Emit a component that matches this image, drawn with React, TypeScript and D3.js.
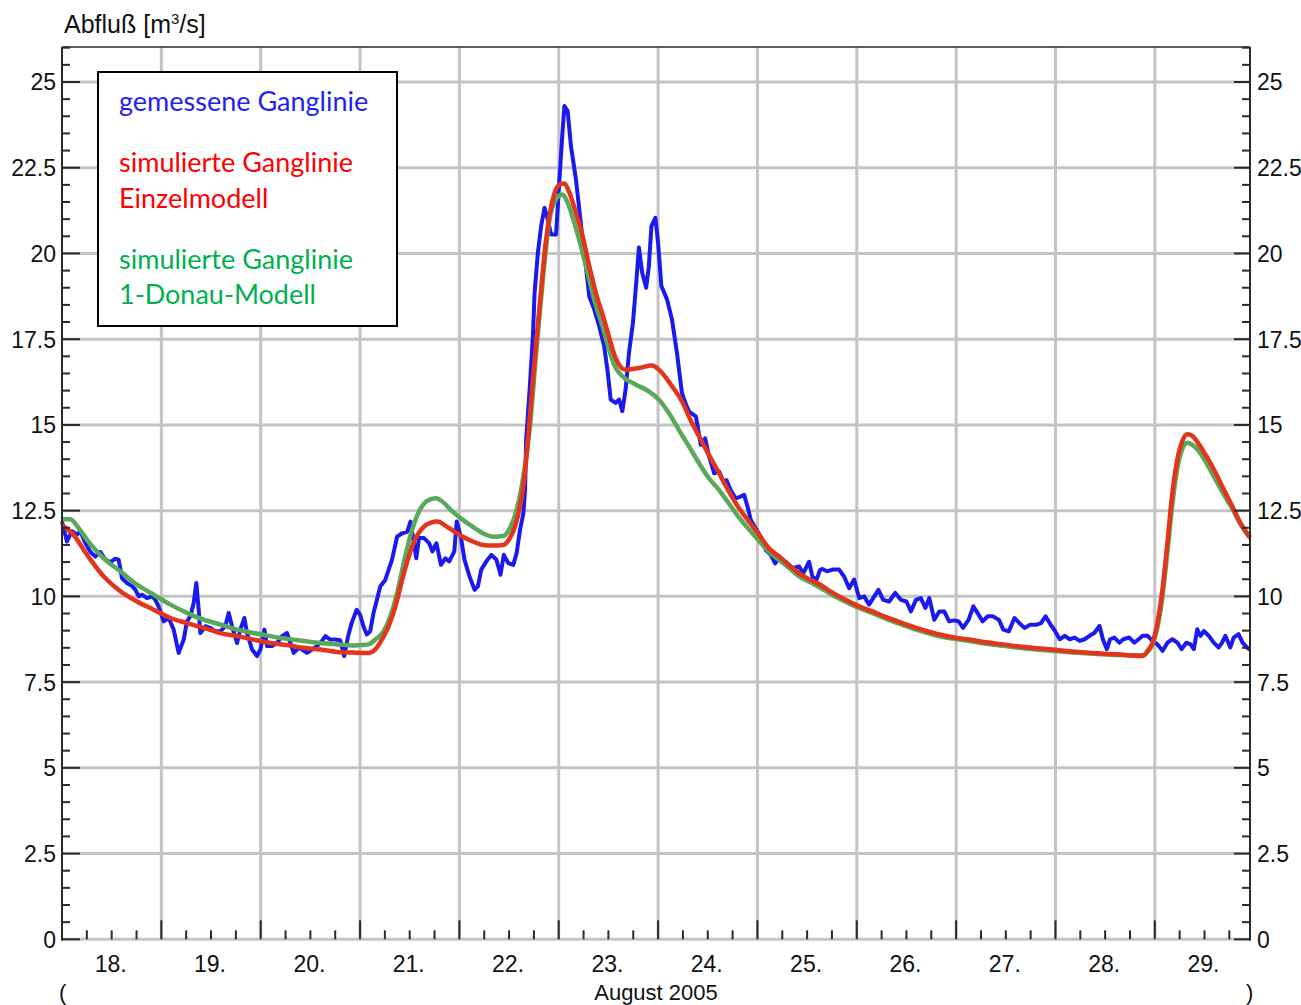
import React, { useRef, useEffect } from 'react'
import * as d3 from 'd3'

// day of August 2005 (fractional), discharge in m3/s
const measured: [number, number][] = [
  [18.0, 12.18], [18.05, 11.6], [18.1, 11.9], [18.15, 11.8], [18.185, 11.9], [18.235, 11.55],
  [18.285, 11.3], [18.335, 11.16], [18.385, 11.3], [18.435, 11.07], [18.487, 11.0], [18.537, 11.1],
  [18.57, 11.07], [18.604, 10.53], [18.654, 10.39], [18.705, 10.3], [18.738, 10.2], [18.772, 10.0],
  [18.805, 10.05], [18.856, 9.95], [18.906, 10.0], [18.94, 9.9], [18.973, 9.7], [19.023, 9.27],
  [19.074, 9.37], [19.124, 9.03], [19.174, 8.35], [19.225, 8.74], [19.258, 9.27], [19.292, 9.42],
  [19.325, 9.8], [19.352, 10.39], [19.376, 9.6], [19.393, 8.93], [19.443, 9.13], [19.493, 9.08],
  [19.544, 8.98], [19.594, 8.98], [19.644, 9.13], [19.678, 9.52], [19.711, 9.13], [19.762, 8.64],
  [19.795, 9.03], [19.836, 9.37], [19.862, 8.93], [19.913, 8.45], [19.963, 8.26], [19.997, 8.45],
  [20.037, 9.03], [20.064, 8.55], [20.114, 8.55], [20.164, 8.64], [20.215, 8.84], [20.265, 8.93],
  [20.299, 8.64], [20.332, 8.35], [20.383, 8.5], [20.416, 8.45], [20.466, 8.35], [20.517, 8.45],
  [20.567, 8.55], [20.617, 8.7], [20.651, 8.84], [20.701, 8.74], [20.752, 8.74], [20.8, 8.72],
  [20.84, 8.26], [20.88, 8.84], [20.915, 9.22], [20.966, 9.61], [21.0, 9.47], [21.034, 9.13],
  [21.068, 8.89], [21.102, 8.98], [21.136, 9.52], [21.17, 9.9], [21.203, 10.29], [21.254, 10.48],
  [21.288, 10.78], [21.322, 11.07], [21.373, 11.74], [21.424, 11.84], [21.475, 11.89], [21.508, 12.18],
  [21.532, 11.74], [21.566, 11.11], [21.593, 11.7], [21.644, 11.7], [21.695, 11.55], [21.729, 11.31],
  [21.769, 11.55], [21.814, 10.92], [21.858, 11.11], [21.898, 11.02], [21.949, 11.31], [21.973, 12.18],
  [22.017, 11.7], [22.051, 11.07], [22.102, 10.58], [22.153, 10.19], [22.186, 10.29], [22.22, 10.78],
  [22.271, 11.02], [22.322, 11.21], [22.373, 11.07], [22.414, 10.63], [22.447, 11.21], [22.492, 10.97],
  [22.542, 10.92], [22.576, 11.26], [22.61, 11.94], [22.644, 12.42], [22.661, 13.1], [22.672, 14.57],
  [22.707, 16.03], [22.74, 17.59], [22.757, 18.85], [22.79, 20.02], [22.823, 20.8], [22.857, 21.33],
  [22.89, 20.99], [22.923, 20.55], [22.973, 20.55], [23.007, 22.16], [23.033, 23.33], [23.057, 24.3],
  [23.09, 24.15], [23.123, 23.13], [23.173, 22.16], [23.207, 21.28], [23.24, 20.41], [23.273, 19.63],
  [23.307, 18.75], [23.357, 18.37], [23.407, 17.88], [23.457, 17.3], [23.49, 16.61], [23.523, 15.74],
  [23.573, 15.64], [23.607, 15.74], [23.64, 15.4], [23.673, 16.03], [23.707, 17.1], [23.747, 17.98],
  [23.78, 19.14], [23.807, 20.17], [23.84, 19.44], [23.88, 19.0], [23.907, 19.63], [23.933, 20.8],
  [23.973, 21.04], [24.0, 20.31], [24.033, 19.05], [24.09, 18.66], [24.14, 18.07], [24.19, 17.1],
  [24.24, 15.93], [24.28, 15.6], [24.312, 15.39], [24.38, 15.25], [24.43, 14.42], [24.473, 14.61],
  [24.513, 14.08], [24.564, 13.59], [24.614, 13.64], [24.664, 13.3], [24.688, 13.39], [24.73, 13.1],
  [24.78, 12.86], [24.832, 12.91], [24.866, 12.96], [24.9, 12.62], [24.933, 12.23], [24.983, 11.98],
  [25.034, 11.74], [25.084, 11.35], [25.134, 11.21], [25.178, 10.96], [25.218, 11.11], [25.285, 11.01],
  [25.352, 10.82], [25.42, 10.87], [25.46, 10.67], [25.487, 10.82], [25.52, 11.01], [25.554, 10.57],
  [25.594, 10.48], [25.63, 10.77], [25.654, 10.8], [25.7, 10.73], [25.755, 10.78], [25.822, 10.78],
  [25.872, 10.58], [25.923, 10.24], [25.973, 10.49], [26.024, 9.95], [26.074, 10.0], [26.124, 9.76],
  [26.165, 9.95], [26.218, 10.19], [26.266, 9.9], [26.326, 9.85], [26.387, 10.1], [26.444, 9.9],
  [26.5, 9.85], [26.545, 9.56], [26.595, 9.9], [26.645, 9.95], [26.69, 9.66], [26.73, 9.95],
  [26.78, 9.32], [26.83, 9.56], [26.88, 9.56], [26.93, 9.27], [26.98, 9.3], [27.025, 9.27],
  [27.07, 9.08], [27.126, 9.32], [27.173, 9.71], [27.217, 9.51], [27.267, 9.27], [27.318, 9.42],
  [27.368, 9.42], [27.43, 9.32], [27.475, 9.03], [27.53, 8.98], [27.587, 9.37], [27.637, 9.22],
  [27.687, 9.08], [27.745, 9.17], [27.805, 9.17], [27.855, 9.22], [27.9, 9.42], [27.946, 9.2],
  [27.993, 9.0], [28.043, 8.75], [28.093, 8.85], [28.143, 8.75], [28.193, 8.8], [28.243, 8.7],
  [28.293, 8.75], [28.343, 8.85], [28.393, 8.94], [28.443, 9.14], [28.477, 8.75], [28.517, 8.46],
  [28.55, 8.75], [28.593, 8.8], [28.643, 8.65], [28.683, 8.75], [28.743, 8.8], [28.793, 8.65],
  [28.837, 8.75], [28.877, 8.85], [28.927, 8.85], [28.977, 8.7], [29.027, 8.6], [29.077, 8.41],
  [29.127, 8.65], [29.177, 8.75], [29.227, 8.65], [29.27, 8.46], [29.317, 8.65], [29.36, 8.6],
  [29.393, 8.46], [29.427, 9.04], [29.46, 8.85], [29.493, 8.99], [29.543, 8.85], [29.593, 8.65],
  [29.643, 8.51], [29.677, 8.65], [29.71, 8.85], [29.76, 8.51], [29.793, 8.8], [29.843, 8.9],
  [29.883, 8.65], [29.927, 8.51], [29.958, 8.45],
]

const einzelmodell: [number, number][] = [
  [18.0, 12.08], [18.117, 11.79], [18.252, 11.21], [18.42, 10.58], [18.587, 10.15], [18.755, 9.85],
  [18.923, 9.61], [19.091, 9.37], [19.258, 9.22], [19.426, 9.08], [19.594, 8.93], [19.762, 8.84],
  [19.93, 8.74], [20.097, 8.64], [20.265, 8.58], [20.433, 8.5], [20.6, 8.45], [20.768, 8.38],
  [20.936, 8.36], [21.085, 8.35], [21.153, 8.45], [21.22, 8.74], [21.288, 9.13], [21.356, 9.71],
  [21.424, 10.48], [21.49, 11.16], [21.56, 11.7], [21.627, 11.99], [21.712, 12.15], [21.78, 12.18],
  [21.864, 12.05], [21.949, 11.89], [22.034, 11.74], [22.136, 11.6], [22.237, 11.5], [22.339, 11.48],
  [22.44, 11.5], [22.508, 11.7], [22.559, 12.03], [22.61, 12.62], [22.644, 13.2], [22.69, 14.57],
  [22.74, 16.32], [22.807, 18.46], [22.873, 20.41], [22.94, 21.58], [23.007, 22.01], [23.057, 22.04],
  [23.107, 21.77], [23.173, 21.19], [23.24, 20.51], [23.307, 19.63], [23.373, 18.85], [23.457, 18.07],
  [23.523, 17.39], [23.573, 16.95], [23.673, 16.61], [23.807, 16.66], [23.94, 16.73], [24.023, 16.57],
  [24.14, 16.13], [24.24, 15.69], [24.34, 15.06], [24.413, 14.66], [24.513, 14.12], [24.614, 13.59],
  [24.715, 13.05], [24.815, 12.57], [24.916, 12.18], [25.017, 11.79], [25.117, 11.4], [25.218, 11.16],
  [25.319, 10.91], [25.42, 10.67], [25.52, 10.5], [25.62, 10.36], [25.72, 10.17], [25.822, 10.0],
  [26.024, 9.71], [26.158, 9.56], [26.29, 9.4], [26.46, 9.22], [26.63, 9.05], [26.8, 8.91],
  [26.965, 8.81], [27.133, 8.74], [27.3, 8.66], [27.47, 8.6], [27.637, 8.54], [27.805, 8.49],
  [27.97, 8.45], [28.14, 8.4], [28.3, 8.36], [28.61, 8.31], [28.877, 8.26], [28.927, 8.41],
  [28.977, 8.65], [29.027, 9.24], [29.077, 10.21], [29.127, 11.57], [29.177, 13.03], [29.227, 14.0],
  [29.277, 14.53], [29.327, 14.73], [29.377, 14.68], [29.443, 14.44], [29.527, 14.05], [29.61, 13.61],
  [29.693, 13.12], [29.777, 12.64], [29.86, 12.15], [29.958, 11.72],
]

const donauModell: [number, number][] = [
  [18.0, 12.25], [18.084, 12.25], [18.168, 11.99], [18.252, 11.65], [18.336, 11.36], [18.42, 11.11],
  [18.587, 10.73], [18.755, 10.34], [18.923, 10.05], [19.091, 9.76], [19.258, 9.52], [19.426, 9.32],
  [19.594, 9.18], [19.762, 9.03], [19.93, 8.93], [20.097, 8.84], [20.265, 8.76], [20.433, 8.7],
  [20.6, 8.64], [20.768, 8.6], [20.936, 8.57], [21.085, 8.6], [21.153, 8.74], [21.237, 8.98],
  [21.305, 9.42], [21.373, 10.1], [21.44, 10.97], [21.508, 11.79], [21.593, 12.47], [21.678, 12.79],
  [21.763, 12.86], [21.83, 12.76], [21.932, 12.47], [22.034, 12.23], [22.136, 12.03], [22.237, 11.84],
  [22.339, 11.74], [22.44, 11.76], [22.508, 11.99], [22.576, 12.52], [22.627, 13.2], [22.707, 14.86],
  [22.773, 17.1], [22.84, 19.24], [22.907, 20.99], [22.973, 21.58], [23.033, 21.72], [23.09, 21.48],
  [23.157, 20.89], [23.223, 20.21], [23.29, 19.44], [23.357, 18.66], [23.44, 17.88], [23.507, 17.2],
  [23.557, 16.76], [23.64, 16.42], [23.773, 16.18], [23.907, 15.98], [24.007, 15.74], [24.11, 15.34],
  [24.21, 14.85], [24.312, 14.37], [24.413, 13.88], [24.513, 13.44], [24.614, 13.1], [24.715, 12.7],
  [24.815, 12.3], [24.916, 11.95], [25.017, 11.62], [25.117, 11.3], [25.218, 11.06], [25.319, 10.83],
  [25.42, 10.58], [25.52, 10.43], [25.62, 10.27], [25.72, 10.1], [25.822, 9.94], [26.024, 9.66],
  [26.158, 9.51], [26.29, 9.35], [26.46, 9.17], [26.63, 9.0], [26.8, 8.86], [26.965, 8.77],
  [27.133, 8.7], [27.3, 8.62], [27.47, 8.56], [27.637, 8.5], [27.805, 8.45], [27.97, 8.41],
  [28.14, 8.37], [28.3, 8.34], [28.61, 8.29], [28.877, 8.28], [28.927, 8.38], [28.977, 8.6],
  [29.027, 9.1], [29.077, 10.0], [29.127, 11.3], [29.177, 12.7], [29.227, 13.75], [29.277, 14.3],
  [29.327, 14.48], [29.377, 14.42], [29.443, 14.24], [29.527, 13.85], [29.61, 13.41], [29.693, 12.98],
  [29.777, 12.57], [29.86, 12.12], [29.958, 11.7],
]

const yTicks = [0, 2.5, 5, 7.5, 10, 12.5, 15, 17.5, 20, 22.5, 25]
const dayLabels = [18, 19, 20, 21, 22, 23, 24, 25, 26, 27, 28, 29]
const legendLines = [
  { text: 'gemessene Ganglinie', color: '#1f1ff2' },
  { text: 'simulierte Ganglinie', color: '#ff0000' },
  { text: 'Einzelmodell', color: '#ff0000' },
  { text: 'simulierte Ganglinie', color: '#00b050' },
  { text: '1-Donau-Modell', color: '#00b050' },
]

const W = 1301
const H = 1005
const plot = { left: 62, right: 1250, top: 47, bottom: 939.3 }
const axisFont = '"Liberation Sans", Arial, sans-serif'

const dayToDate = (d: number) => new Date(Date.UTC(2005, 7, 18) + (d - 18) * 864e5)

const App = () => {
  const svgRef = useRef<SVGSVGElement>(null)

  useEffect(() => {
    const svg = d3.select(svgRef.current)
    svg.selectAll('*').remove()

    const x = d3.scaleUtc()
      .domain([dayToDate(18), dayToDate(29.958)])
      .range([plot.left, plot.right])
    const y = d3.scaleLinear().domain([0, 26.02]).range([plot.bottom, plot.top])

    const grid = '#c4c4c4'
    const dark = '#2a2a2a'

    // grid lines
    const days = d3.utcDay.range(dayToDate(19), dayToDate(30)).filter(d => x(d) < plot.right - 2)
    svg.append('g').selectAll('line').data(days).enter().append('line')
      .attr('x1', d => x(d)).attr('x2', d => x(d))
      .attr('y1', plot.top).attr('y2', plot.bottom)
      .attr('stroke', grid).attr('stroke-width', 3)
    svg.append('g').selectAll('line').data(yTicks).enter().append('line')
      .attr('x1', plot.left).attr('x2', plot.right)
      .attr('y1', d => y(d)).attr('y2', d => y(d))
      .attr('stroke', grid).attr('stroke-width', 3)

    // series
    const line = (curve: d3.CurveFactory) => d3.line<[number, number]>()
      .x(d => x(dayToDate(d[0])))
      .y(d => y(d[1]))
      .curve(curve)

    const series = [
      { data: measured, color: '#1a1af0', width: 4, curve: d3.curveLinear },
      { data: donauModell, color: '#5aa85a', width: 4.5, curve: d3.curveMonotoneX },
      { data: einzelmodell, color: '#e3341c', width: 4.5, curve: d3.curveMonotoneX },
    ]
    series.forEach(s => {
      svg.append('path')
        .datum(s.data)
        .attr('d', line(s.curve))
        .attr('fill', 'none')
        .attr('stroke', s.color)
        .attr('stroke-width', s.width)
        .attr('stroke-linejoin', 'round')
    })

    // frame
    svg.append('line').attr('x1', plot.left).attr('x2', plot.right)
      .attr('y1', plot.top).attr('y2', plot.top).attr('stroke', dark).attr('stroke-width', 1.5)
    ;[plot.left, plot.right].forEach(px => {
      svg.append('line').attr('x1', px).attr('x2', px)
        .attr('y1', plot.top).attr('y2', plot.bottom + 1.5).attr('stroke', dark).attr('stroke-width', 2)
    })

    // y ticks (both sides)
    const minorY = d3.range(0, 26.01, 0.5).filter(v => Math.abs(v / 2.5 - Math.round(v / 2.5)) > 1e-6)
    const yt = svg.append('g').attr('stroke', dark).attr('stroke-width', 2)
    minorY.forEach(v => {
      yt.append('line').attr('x1', plot.left).attr('x2', plot.left + 8).attr('y1', y(v)).attr('y2', y(v))
      yt.append('line').attr('x1', plot.right - 8).attr('x2', plot.right).attr('y1', y(v)).attr('y2', y(v))
    })
    yTicks.forEach(v => {
      yt.append('line').attr('x1', plot.left).attr('x2', plot.left + 18).attr('y1', y(v)).attr('y2', y(v))
      yt.append('line').attr('x1', plot.right - 16).attr('x2', plot.right).attr('y1', y(v)).attr('y2', y(v))
    })

    // x ticks
    const xt = svg.append('g').attr('stroke', dark).attr('stroke-width', 2)
    d3.utcHour.every(6)!.range(dayToDate(18), dayToDate(29.958)).forEach(d => {
      const major = d.getUTCHours() === 0
      if (x(d) <= plot.left + 1) return
      xt.append('line').attr('x1', x(d)).attr('x2', x(d))
        .attr('y1', plot.bottom - (major ? 19 : 9)).attr('y2', plot.bottom)
    })

    // y labels
    const fmt = (v: number) => String(v)
    svg.append('g').selectAll('text').data(yTicks).enter().append('text')
      .attr('x', 56).attr('y', d => y(d) + 8.5)
      .attr('text-anchor', 'end')
      .style('font-family', axisFont).style('font-size', '23px').attr('fill', '#111')
      .text(fmt)
    svg.append('g').selectAll('text').data(yTicks).enter().append('text')
      .attr('x', 1257).attr('y', d => y(d) + 8.5)
      .attr('text-anchor', 'start')
      .style('font-family', axisFont).style('font-size', '23px').attr('fill', '#111')
      .text(fmt)

    // x labels at noon
    svg.append('g').selectAll('text').data(dayLabels).enter().append('text')
      .attr('x', d => x(dayToDate(d + 0.5)) - 1).attr('y', 972)
      .attr('text-anchor', 'middle')
      .style('font-family', axisFont).style('font-size', '23px').attr('fill', '#111')
      .text(d => `${d}.`)

    svg.append('text').attr('x', 656).attr('y', 1000).attr('text-anchor', 'middle')
      .style('font-family', axisFont).style('font-size', '22px').attr('fill', '#111')
      .text('August 2005')
    svg.append('text').attr('x', 59).attr('y', 1000)
      .style('font-family', axisFont).style('font-size', '22px').attr('fill', '#111').text('(')
    svg.append('text').attr('x', 1246).attr('y', 1000)
      .style('font-family', axisFont).style('font-size', '22px').attr('fill', '#111').text(')')

    // axis title
    const title = svg.append('text').attr('x', 64).attr('y', 33)
      .style('font-family', axisFont).style('font-size', '25px').attr('fill', '#111')
    title.append('tspan').text('Abfluß [m')
    title.append('tspan').attr('dy', -9).style('font-size', '15px').text('3')
    title.append('tspan').attr('dy', 9).text('/s]')

    // legend
    svg.append('rect').attr('x', 98).attr('y', 72).attr('width', 299).attr('height', 254)
      .attr('fill', 'white').attr('stroke', '#000').attr('stroke-width', 2)
    const legendY = [111, 172, 208, 269, 304]
    svg.append('g').selectAll('text').data(legendLines).enter().append('text')
      .attr('x', 119).attr('y', (_, i) => legendY[i])
      .style('font-family', 'Lato, "Open Sans", sans-serif').style('font-size', '27px')
      .attr('fill', d => d.color)
      .text(d => d.text)
  }, [])

  return (
    <svg ref={svgRef} width={W} height={H}
      style={{ position: 'absolute', left: 0, top: 0, background: '#fff' }} />
  )
}

export default App
